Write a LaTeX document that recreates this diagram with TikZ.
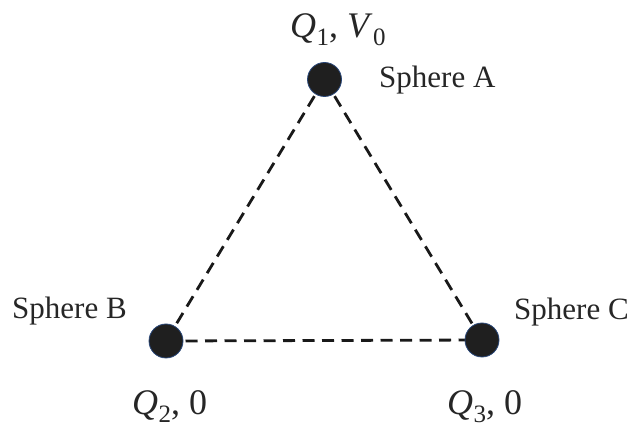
\documentclass[tikz,border=0pt]{standalone}
\usepackage{fontspec}
\setmainfont{Liberation Serif}
\newcommand\myqsub[2]{\textit{#1}\kern0.5pt\raisebox{-0.2em}{\fontsize{25}{25}\selectfont #2}}
\begin{document}
\begin{tikzpicture}[x=1pt,y=-1pt,
  sphere/.style={circle,minimum size=34pt,inner sep=0pt,fill=black!88,draw={rgb,255:red,40;green,70;blue,120},line width=0.8pt},
  link/.style={line width=2.8pt,dash pattern=on 12pt off 7.5pt,black!90},
  txt/.style={anchor=base west,inner sep=0pt,font=\fontsize{31}{31}\selectfont,text=black!85},
  mth/.style={anchor=base west,inner sep=0pt,font=\fontsize{36}{36}\selectfont,text=black!85}]
\useasboundingbox (0,0) rectangle (632,427);
\coordinate (a) at (324.5,79.5);
\coordinate (b) at (166,341);
\coordinate (c) at (482,340);
\draw[link] (a) -- (b);
\draw[link] (a) -- (c);
\draw[link] (b) -- (c);
\node[sphere] (sa) at (a) {};
\node[sphere] (sb) at (b) {};
\node[sphere] (sc) at (c) {};
\node[txt] (la) at (379,88) {Sphere A};
\node[txt] (lb) at (12,319) {Sphere B};
\node[txt] (lc) at (514,320) {Sphere C};
\node[mth] (qa) at (290,38) {\myqsub{Q}{1}, \myqsub{V}{0}};
\node[mth] (qb) at (132,415) {\myqsub{Q}{2}, 0};
\node[mth] (qc) at (447,415) {\myqsub{Q}{3}, 0};
\end{tikzpicture}
\end{document}
